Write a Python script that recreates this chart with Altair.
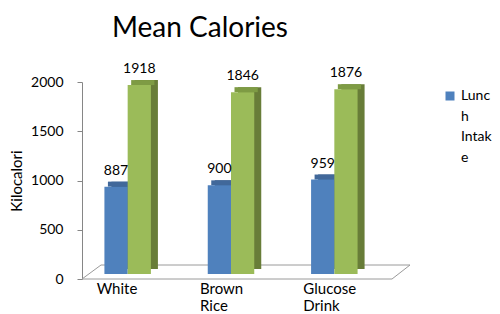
import altair as alt
import pandas as pd

categories = ["White", "Brown Rice", "Glucose Drink"]
lunch_intake = [887, 900, 959]
total_intake = [1918, 1846, 1876]
series_names = ["Lunch Intake", "Total Intake"]
y_ticks = [0, 500, 1000, 1500, 2000]

rows = []
for c, l, t in zip(categories, lunch_intake, total_intake):
    rows.append({"category": c, "series": series_names[0], "value": l})
    rows.append({"category": c, "series": series_names[1], "value": t})
df = pd.DataFrame(rows)

FONT = "Lato"
W, H = 310, 197
front_cols = ["#4F81BD", "#9BBB59"]
side_cols = ["#3A5F8B", "#687D38"]
top_cols = ["#41689A", "#7E9B44"]


def xenc(shift, axis=None):
    return alt.X(
        "category:N",
        sort=categories,
        scale=alt.Scale(range=[-6 + shift, W - 6 + shift], paddingInner=0.55, paddingOuter=0.275),
        axis=axis,
    )


xoff = alt.XOffset("series:N", sort=series_names,
                   scale=alt.Scale(domain=series_names, paddingInner=0, paddingOuter=0))

Y = alt.Y(
    "value:Q",
    scale=alt.Scale(domain=[0, 2000], nice=False),
    axis=alt.Axis(
        values=y_ticks, format="d", grid=False, title="Kilocalori", titleFont=FONT, titleFontSize=15,
        titleFontWeight="normal", titleColor="#000", titlePadding=6,
        labelFont=FONT, labelFontSize=14, labelColor="#000", labelPadding=14,
        tickSize=5, tickColor="#868686", domainColor="#868686",
    ),
)

base = alt.Chart(df)

side = base.mark_bar(yOffset=-10, y2Offset=-10).encode(
    x=xenc(7), xOffset=xoff, y=Y, y2=alt.datum(0),
    color=alt.Color("series:N", scale=alt.Scale(domain=series_names, range=side_cols), legend=None),
)
top = base.mark_bar(yOffset=-10, y2Offset=-5).encode(
    x=xenc(3.5), xOffset=xoff, y=Y, y2=alt.Y2("value:Q"),
    color=alt.Color("series:N", scale=alt.Scale(domain=series_names, range=top_cols), legend=None),
)
front = base.mark_bar(yOffset=-5, y2Offset=-5).encode(
    x=xenc(0, alt.Axis(
        title=None, domain=False, ticks=False, labelAngle=0, labelAlign="left",
        labelOffset=-31, labelPadding=2, labelFont=FONT, labelFontSize=15,
        labelColor="#000", labelLineHeight=17, labelExpr="split(datum.label, ' ')",
    )),
    xOffset=xoff, y=Y, y2=alt.datum(0),
    color=alt.Color(
        "series:N",
        scale=alt.Scale(domain=series_names, range=front_cols),
        legend=alt.Legend(
            title=None, values=[series_names[0]], orient="none", legendX=361, legendY=7,
            symbolType="square", symbolSize=81, symbolStrokeWidth=0, padding=0,
            labelFont=FONT, labelFontSize=14, labelColor="#000", labelOffset=4,
            labelExpr="['Lunc', 'h', 'Intak', 'e']", labelBaseline="middle",
            labelLimit=200,
        ),
    ),
)
labels = base.mark_text(dy=-17, baseline="alphabetic", font=FONT, fontSize=14, color="#000").encode(
    x=xenc(0), xOffset=xoff, y=Y, text="value:Q",
)

floor = pd.DataFrame({
    "x": [0, 310, 19, 0], "y": [197, 197, 183, 197],
    "x2": [310, 328, 328, 19], "y2": [197, 183, 183, 183],
})
floor_lines = alt.Chart(floor).mark_rule(color="#9A9A9A", strokeWidth=1).encode(
    x=alt.X("x:Q", scale=None), y=alt.Y("y:Q", scale=None),
    x2="x2:Q", y2="y2:Q",
)

chart = alt.layer(floor_lines, side, top, front, labels).resolve_scale(
    x="independent", color="independent"
).properties(
    width=W, height=H,
    title=alt.TitleParams("Mean Calories", font=FONT, fontSize=28, fontWeight="normal",
                          color="#000", anchor="middle", dx=-37, offset=19),
    autosize=alt.AutoSizeParams(type="none"),
    padding={"left": 74, "top": 74, "right": 100, "bottom": 35},
).configure(style={"guide-label": {"lineHeight": 20.7}}).configure_view(stroke=None)

chart.save("out.html", embed_options={"renderer": "svg", "actions": False})
